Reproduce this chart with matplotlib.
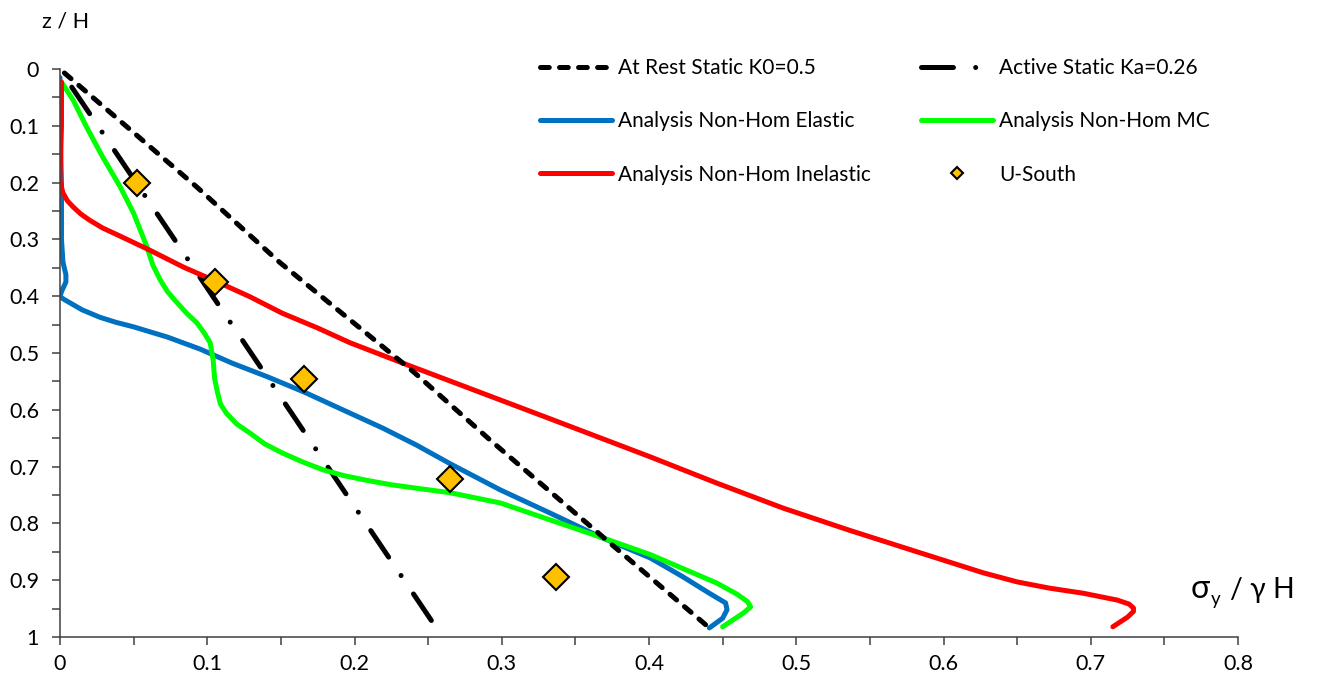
import matplotlib
matplotlib.use("Agg")
import matplotlib.pyplot as plt
import numpy as np
from matplotlib.ticker import MultipleLocator, FuncFormatter

plt.rcParams["font.family"] = ["Lato", "DejaVu Sans"]
plt.rcParams["lines.scale_dashes"] = False

# depth ratio z/H (downwards) vs normalised stress sigma_y / (gamma H)
rest_z = [0.007, 0.208, 0.340, 0.533, 0.653, 0.829, 0.984]
rest_s = [0.003, 0.093, 0.149, 0.240, 0.292, 0.371, 0.441]

active_z = [0.032, 0.974]
active_s = [0.008, 0.253]

elastic_z = [0.015, 0.100, 0.200, 0.300, 0.340, 0.362, 0.375, 0.392, 0.401, 0.406,
             0.412, 0.424, 0.437, 0.446, 0.454, 0.472, 0.493, 0.518, 0.542, 0.569,
             0.600, 0.632, 0.662, 0.695, 0.741, 0.782, 0.824, 0.861, 0.894, 0.923,
             0.940, 0.952, 0.967, 0.984]
elastic_s = [0.000, 0.000, 0.001, 0.001, 0.002, 0.004, 0.004, 0.001, 0.000, 0.003,
             0.007, 0.015, 0.027, 0.038, 0.050, 0.073, 0.095, 0.117, 0.141, 0.166,
             0.192, 0.219, 0.242, 0.265, 0.299, 0.333, 0.367, 0.401, 0.423, 0.441,
             0.452, 0.453, 0.450, 0.441]

mc_z = [0.023, 0.055, 0.102, 0.155, 0.208, 0.254, 0.313, 0.345, 0.371, 0.392,
        0.410, 0.430, 0.447, 0.465, 0.482, 0.512, 0.545, 0.570, 0.590, 0.606,
        0.625, 0.641, 0.660, 0.676, 0.692, 0.706, 0.716, 0.724, 0.732, 0.738,
        0.746, 0.764, 0.794, 0.824, 0.855, 0.905, 0.925, 0.938, 0.947, 0.958,
        0.982]
mc_s = [0.001, 0.009, 0.018, 0.029, 0.041, 0.050, 0.059, 0.063, 0.068, 0.073,
        0.079, 0.086, 0.093, 0.098, 0.102, 0.104, 0.105, 0.107, 0.109, 0.113,
        0.120, 0.129, 0.139, 0.151, 0.165, 0.179, 0.193, 0.208, 0.225, 0.242,
        0.265, 0.299, 0.333, 0.367, 0.401, 0.446, 0.460, 0.467, 0.469, 0.464,
        0.450]

inelastic_z = [0.023, 0.100, 0.195, 0.208, 0.218, 0.232, 0.243, 0.255, 0.266, 0.280,
               0.292, 0.319, 0.349, 0.375, 0.401, 0.430, 0.456, 0.482, 0.521, 0.614,
               0.683, 0.729, 0.773, 0.812, 0.850, 0.887, 0.903, 0.914, 0.923, 0.935,
               0.942, 0.949, 0.955, 0.965, 0.982]
inelastic_s = [0.001, 0.001, 0.000, 0.001, 0.002, 0.005, 0.009, 0.014, 0.020, 0.029,
               0.039, 0.061, 0.084, 0.107, 0.129, 0.151, 0.175, 0.197, 0.236, 0.331,
               0.401, 0.446, 0.491, 0.536, 0.582, 0.627, 0.650, 0.672, 0.695, 0.718,
               0.726, 0.729, 0.729, 0.725, 0.715]

south_z = [0.201, 0.375, 0.546, 0.722, 0.894]
south_s = [0.052, 0.105, 0.166, 0.265, 0.337]

W, H = 1318, 681
fig = plt.figure(figsize=(W / 100, H / 100), dpi=100)
ax = fig.add_axes([60 / W, 1 - 637 / H, 1178 / W, 568 / H])

lw = 3.6
l_active, = ax.plot(active_s, active_z, color="black", lw=lw,
                    linestyle=(0, (23, 16, 0.01, 16)), dash_capstyle="round",
                    zorder=2, label="Active Static Ka=0.26")
l_el, = ax.plot(elastic_s, elastic_z, color="#0070C0", lw=lw,
                solid_capstyle="round", zorder=2.1, label="Analysis Non-Hom Elastic")
l_mc, = ax.plot(mc_s, mc_z, color="#00FF00", lw=lw,
                solid_capstyle="round", zorder=2.2, label="Analysis Non-Hom MC")
l_inel, = ax.plot(inelastic_s, inelastic_z, color="#FF0000", lw=lw,
                  solid_capstyle="round", zorder=2.3, label="Analysis Non-Hom Inelastic")
l_rest, = ax.plot(rest_s, rest_z, color="black", lw=lw,
                  linestyle=(0, (6.3, 7.4)), dash_capstyle="round",
                  zorder=2.4, label="At Rest Static K0=0.5")
l_south, = ax.plot(south_s, south_z, linestyle="none", marker="D", markersize=13.5,
                   markerfacecolor="#FFC000", markeredgecolor="black",
                   markeredgewidth=1.5, zorder=3, label="U-South")

ax.set_xlim(0, 0.8)
ax.set_ylim(1, 0)
for side in ("top", "right"):
    ax.spines[side].set_visible(False)
for side in ("left", "bottom"):
    ax.spines[side].set_color("#404040")
    ax.spines[side].set_linewidth(1.1)

fmt = FuncFormatter(lambda v, p: "%g" % round(v, 2))
ax.xaxis.set_major_locator(MultipleLocator(0.1))
ax.xaxis.set_minor_locator(MultipleLocator(0.05))
ax.yaxis.set_major_locator(MultipleLocator(0.1))
ax.yaxis.set_minor_locator(MultipleLocator(0.05))
ax.xaxis.set_major_formatter(fmt)
ax.yaxis.set_major_formatter(fmt)
ax.tick_params(which="both", direction="out", length=6, width=1.1, color="#404040")
ax.tick_params(axis="x", which="major", labelsize=15.5, pad=6)
ax.tick_params(axis="y", which="major", labelsize=15.5, pad=9)

fig.text(66 / W, 1 - 22 / H, "z / H", fontsize=15.5, ha="center", va="center")
fig.text(1191 / W, 1 - 598 / H, "σ", fontsize=23, ha="left", va="baseline")
fig.text(1211 / W, 1 - 605 / H, "y", fontsize=13.5, ha="left", va="baseline")
fig.text(1230 / W, 1 - 598 / H, "/ γ H", fontsize=20.5, ha="left", va="baseline")

leg_kw = dict(frameon=False, fontsize=15, handlelength=3.45, handletextpad=0.3,
              labelspacing=1.6, borderpad=0, borderaxespad=0, markerscale=0.45,
              loc="upper left", bbox_transform=fig.transFigure)
leg1 = ax.legend(handles=[l_rest, l_el, l_inel],
                 bbox_to_anchor=(540 / W, 1 - 58 / H), **leg_kw)
ax.add_artist(leg1)
ax.legend(handles=[l_active, l_mc, l_south],
          bbox_to_anchor=(921 / W, 1 - 58 / H), **leg_kw)

fig.savefig("out.png", dpi=100)
